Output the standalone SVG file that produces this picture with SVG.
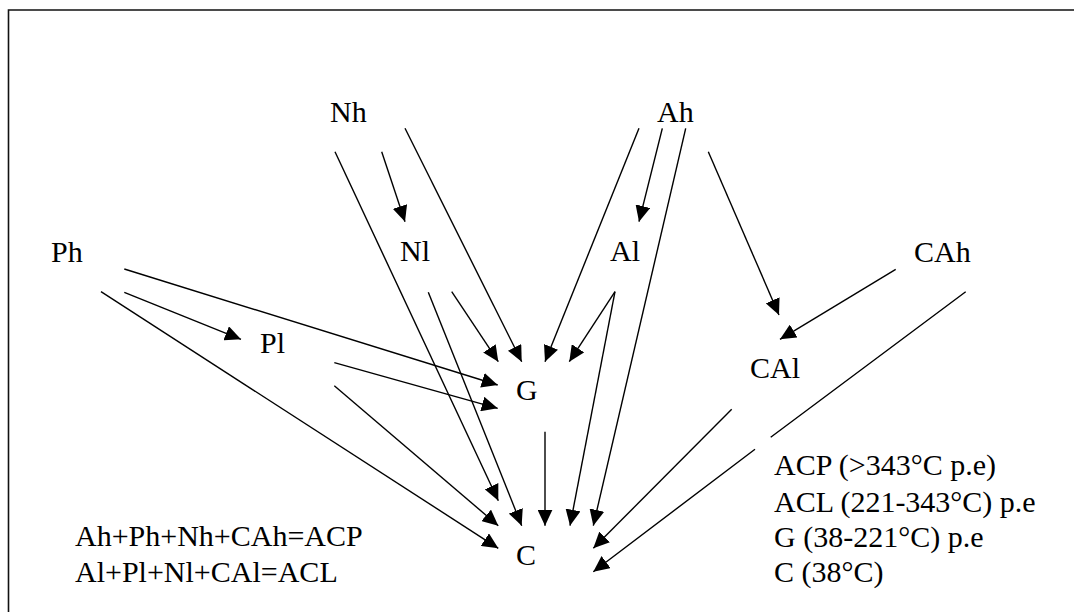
<svg xmlns="http://www.w3.org/2000/svg" width="1074" height="612" viewBox="0 0 1074 612" font-family="'Liberation Serif', 'DejaVu Serif', serif">
<style>
text{font-size:30px;fill:#000}
.c{fill:none;stroke:#000;stroke-width:1.4}
.b{fill:none;stroke:#111;stroke-width:1.6}
</style>
<defs>
<marker id="ah" markerUnits="userSpaceOnUse" markerWidth="16" markerHeight="15" viewBox="0 0 16 15" refX="16" refY="7.5" orient="auto">
<path d="M0,0 L16,7.5 L0,15 Z" fill="#000"/>
</marker>
</defs>
<rect width="1074" height="612" fill="#fff"/>
<path class="b" d="M8.5,612 V10 H1074"/>
<g id="connectors">
<path class="c" marker-end="url(#ah)" d="M381.7,151.7 L405,221.7"/>
<path class="c" marker-end="url(#ah)" d="M405,128.3 L521.7,361.7"/>
<path class="c" marker-end="url(#ah)" d="M335,151.7 L498.3,500.7"/>
<path class="c" marker-end="url(#ah)" d="M451.7,291.7 L498.3,361.7"/>
<path class="c" marker-end="url(#ah)" d="M428.3,292.3 L521.7,525.7"/>
<path class="c" marker-end="url(#ah)" d="M639,128.3 L545,361.7"/>
<path class="c" marker-end="url(#ah)" d="M662.3,128.3 L639,221.7"/>
<path class="c" marker-end="url(#ah)" d="M685.7,128.3 L593.3,525.7"/>
<path class="c" marker-end="url(#ah)" d="M708.3,151.7 L779,315"/>
<path class="c" marker-end="url(#ah)" d="M615,291.7 L569.3,361.7"/>
<path class="c" marker-end="url(#ah)" d="M615,291.7 L570,525.7"/>
<path class="c" marker-end="url(#ah)" d="M124.3,292.3 L241,339.3"/>
<path class="c" marker-end="url(#ah)" d="M124.3,269 L497.7,385"/>
<path class="c" marker-end="url(#ah)" d="M101,291.7 L498.3,548.3"/>
<path class="c" marker-end="url(#ah)" d="M334.3,362.7 L497.7,408.3"/>
<path class="c" marker-end="url(#ah)" d="M334.3,385.7 L498.3,525.7"/>
<path class="c" marker-end="url(#ah)" d="M545,431.7 L545,525.7"/>
<path class="c" marker-end="url(#ah)" d="M895.7,269.3 L780,339.3"/>
<path class="c" marker-end="url(#ah)" d="M965.7,291.7 L770.7,437.3 M755,449.3 L593.3,571.7"/>
<path class="c" marker-end="url(#ah)" d="M731.7,409.3 L593.3,548.3"/>
</g>
<g id="Nh"><text x="330" y="122">Nh</text></g>
<g id="Ah"><text x="657" y="122">Ah</text></g>
<g id="Nl"><text x="400" y="261">Nl</text></g>
<g id="Al"><text x="610" y="261">Al</text></g>
<g id="Ph"><text x="51" y="262">Ph</text></g>
<g id="Pl"><text x="260" y="353">Pl</text></g>
<g id="G"><text x="516" y="400">G</text></g>
<g id="C"><text x="516" y="565">C</text></g>
<g id="CAh"><text x="914" y="262">CAh</text></g>
<g id="CAl"><text x="750" y="378">CAl</text></g>
<g id="legend">
<text x="774" y="475">ACP (&gt;343°C p.e)</text>
<text x="774" y="511.5">ACL (221-343°C) p.e</text>
<text x="774" y="547">G (38-221°C) p.e</text>
<text x="774" y="582">C (38°C)</text>
</g>
<g id="formulas">
<text x="75" y="546">Ah+Ph+Nh+CAh=ACP</text>
<text x="75" y="582">Al+Pl+Nl+CAl=ACL</text>
</g>
</svg>
